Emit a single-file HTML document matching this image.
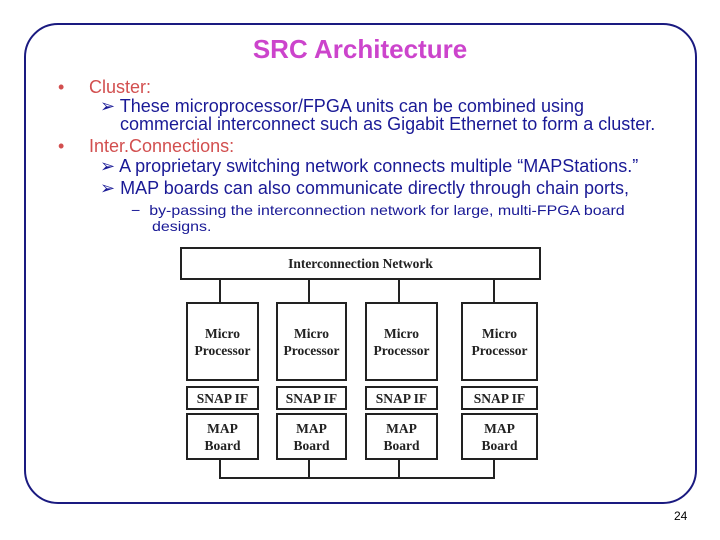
<!DOCTYPE html>
<html><head><meta charset="utf-8"><style>
body{margin:0;background:#fff;}
#c{position:relative;width:720px;height:540px;overflow:hidden;font-family:"Liberation Sans",sans-serif;}
.t{position:absolute;white-space:nowrap;line-height:1;}
.r{color:#d24f4f;font-size:18px;}
.b{color:#1a1a96;font-size:18px;}
.s{color:#1a1a96;font-size:14px;transform:scaleX(1.14);transform-origin:0 0;}
.bx{position:absolute;border:2px solid #222;box-sizing:border-box;background:#fff;display:flex;align-items:center;justify-content:center;text-align:center;font-family:"Liberation Serif",serif;font-weight:bold;font-size:13.5px;line-height:17px;color:#222;}
.ln{position:absolute;background:#222;}
</style></head><body><div id="c">
<div style="position:absolute;left:24px;top:23px;width:673px;height:481px;border:2px solid #1a1a80;border-radius:34px;box-sizing:border-box;"></div>
<div class="t" style="left:0;width:720px;text-align:center;top:36px;font-size:26px;font-weight:bold;color:#cc44cc;">SRC Architecture</div>
<div class="t r" style="left:58px;top:78px;">•</div>
<div class="t r" style="left:89px;top:78px;">Cluster:</div>
<div class="t b" style="left:100px;top:97px;">➢ These microprocessor/FPGA units can be combined using</div>
<div class="t b" style="left:120px;top:115px;">commercial interconnect such as Gigabit Ethernet to form a cluster.</div>
<div class="t r" style="left:58px;top:137px;">•</div>
<div class="t r" style="left:89px;top:137px;">Inter.Connections:</div>
<div class="t b" style="left:100px;top:157px;">➢ A proprietary switching network connects multiple “MAPStations.”</div>
<div class="t b" style="left:100px;top:179px;">➢ MAP boards can also communicate directly through chain ports,</div>
<div class="t s" style="left:131px;top:203px;">−&nbsp; by-passing the interconnection network for large, multi-FPGA board</div>
<div class="t s" style="left:152px;top:219px;">designs.</div>

<div class="ln" style="left:219px;top:278px;width:2px;height:25px;"></div>
<div class="ln" style="left:308px;top:278px;width:2px;height:25px;"></div>
<div class="ln" style="left:398px;top:278px;width:2px;height:25px;"></div>
<div class="ln" style="left:493px;top:278px;width:2px;height:25px;"></div>
<div class="ln" style="left:219px;top:458px;width:2px;height:21px;"></div>
<div class="ln" style="left:308px;top:458px;width:2px;height:21px;"></div>
<div class="ln" style="left:398px;top:458px;width:2px;height:21px;"></div>
<div class="ln" style="left:493px;top:458px;width:2px;height:21px;"></div>
<div class="ln" style="left:219px;top:477px;width:276px;height:2px;"></div>

<div class="bx" style="left:180px;top:247px;width:361px;height:33px;">Interconnection Network</div>

<div class="bx" style="left:186px;top:302px;width:73px;height:79px;">Micro<br>Processor</div>
<div class="bx" style="left:276px;top:302px;width:71px;height:79px;">Micro<br>Processor</div>
<div class="bx" style="left:365px;top:302px;width:73px;height:79px;">Micro<br>Processor</div>
<div class="bx" style="left:461px;top:302px;width:77px;height:79px;">Micro<br>Processor</div>

<div class="bx" style="left:186px;top:386px;width:73px;height:24px;">SNAP IF</div>
<div class="bx" style="left:276px;top:386px;width:71px;height:24px;">SNAP IF</div>
<div class="bx" style="left:365px;top:386px;width:73px;height:24px;">SNAP IF</div>
<div class="bx" style="left:461px;top:386px;width:77px;height:24px;">SNAP IF</div>

<div class="bx" style="left:186px;top:413px;width:73px;height:47px;">MAP<br>Board</div>
<div class="bx" style="left:276px;top:413px;width:71px;height:47px;">MAP<br>Board</div>
<div class="bx" style="left:365px;top:413px;width:73px;height:47px;">MAP<br>Board</div>
<div class="bx" style="left:461px;top:413px;width:77px;height:47px;">MAP<br>Board</div>

<div class="t" style="left:674px;top:510px;font-size:12px;color:#000;">24</div>
</div></body></html>
